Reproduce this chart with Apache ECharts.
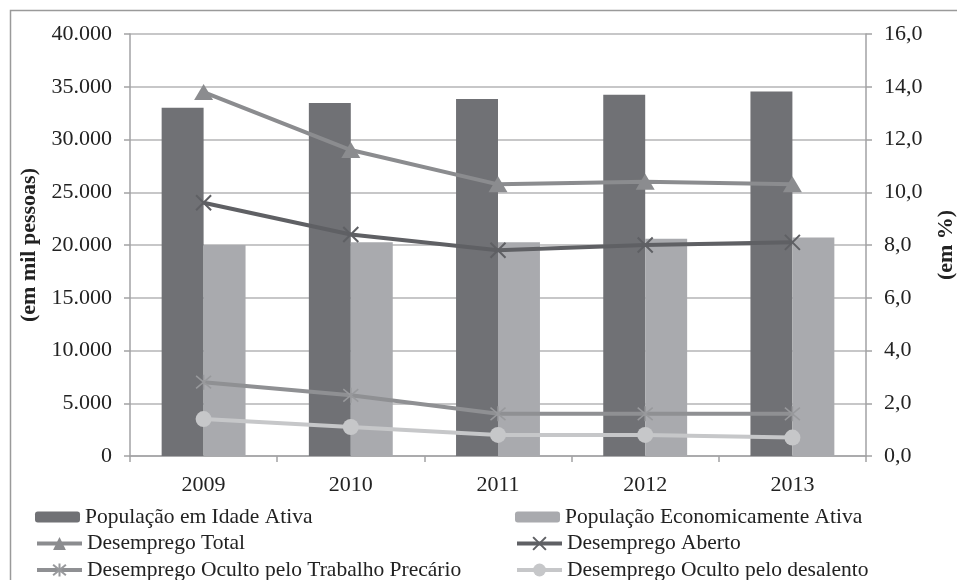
<!DOCTYPE html>
<html>
<head>
<meta charset="utf-8">
<script src="https://cdn.jsdelivr.net/npm/echarts@6/dist/echarts.min.js"></script>
<style>
  html, body { margin: 0; padding: 0; background: #fff; }
  #chart { width: 957px; height: 580px; }
</style>
</head>
<body>
<div id="chart"></div>
<script>
// Anos
const years = ['2009', '2010', '2011', '2012', '2013'];

// População (em mil pessoas)
const popIdadeAtiva = [33000, 33450, 33850, 34250, 34550];
const popEconAtiva = [20000, 20250, 20250, 20600, 20700];

// Taxas de desemprego (em %)
const desempTotal = [13.8, 11.6, 10.3, 10.4, 10.3];
const desempAberto = [9.6, 8.4, 7.8, 8.0, 8.1];
const desempPrecario = [2.8, 2.3, 1.6, 1.6, 1.6];
const desempDesalento = [1.4, 1.1, 0.8, 0.8, 0.7];

// Ordem da legenda: [coluna esquerda, coluna direita] por linha
const legendRows = [
  ['População em Idade Ativa', 'População Economicamente Ativa'],
  ['Desemprego Total', 'Desemprego Aberto'],
  ['Desemprego Oculto pelo Trabalho Precário', 'Desemprego Oculto pelo desalento']
];

const serif = '"Liberation Serif", "Times New Roman", serif';
const axisGray = '#a2a2a4';
const fontSize = 22;

const crossPath = 'path://M0,0L10,10M10,0L0,10';
const asteriskPath = 'path://M0,0L10,10M10,0L0,10M5,-1L5,11';

const chart = echarts.init(document.getElementById('chart'));

function fmtThousands(v) {
  return String(v).replace(/\B(?=(\d{3})+(?!\d))/g, '.');
}

// Uma legenda por item, em duas colunas
const legendTops = [506, 532.5, 559];
const legends = [];
legendRows.forEach((row, r) => {
  row.forEach((name, c) => {
    const isBar = r === 0;
    legends.push({
      left: c === 0 ? 35 : 515,
      top: legendTops[r],
      itemWidth: 45,
      itemHeight: isBar ? 11 : 16,
      itemGap: 0,
      padding: 0,
      lineStyle: { width: 4 },
      textStyle: { fontFamily: serif, fontSize: 21.5, color: '#222' },
      data: [name]
    });
  });
});

chart.setOption({
  animation: false,
  textStyle: { fontFamily: serif },
  graphic: [{
    type: 'rect',
    shape: { x: 10.5, y: 10.5, width: 1000, height: 1000 },
    style: { fill: 'none', stroke: '#9a9a9a', lineWidth: 1.5 },
    silent: true
  }],
  grid: { left: 130, right: 91, top: 34, bottom: 124, outerBoundsMode: 'none' },
  legend: legends,
  xAxis: {
    type: 'category',
    data: years,
    axisLine: { lineStyle: { color: axisGray, width: 1.5 } },
    axisTick: { show: true, length: 6, lineStyle: { color: axisGray, width: 1.5 } },
    axisLabel: { fontFamily: serif, fontSize: fontSize, color: '#222', margin: 18 }
  },
  yAxis: [
    {
      type: 'value', min: 0, max: 40000, interval: 5000,
      name: '(em mil pessoas)', nameLocation: 'middle', nameGap: 79, nameRotate: 90,
      nameTextStyle: { fontFamily: serif, fontSize: fontSize, fontWeight: 'bold', color: '#222' },
      axisLine: { show: true, lineStyle: { color: axisGray, width: 1.5 } },
      axisTick: { show: true, length: 6, lineStyle: { color: axisGray, width: 1.5 } },
      axisLabel: { fontFamily: serif, fontSize: fontSize, color: '#222', margin: 18, formatter: fmtThousands },
      splitLine: { lineStyle: { color: '#b4b4b6', width: 1.5 } }
    },
    {
      type: 'value', min: 0, max: 16, interval: 2, position: 'right',
      name: '(em %)', nameLocation: 'middle', nameGap: 69, nameRotate: 90,
      nameTextStyle: { fontFamily: serif, fontSize: fontSize, fontWeight: 'bold', color: '#222' },
      axisLine: { show: true, lineStyle: { color: axisGray, width: 1.5 } },
      axisTick: { show: true, length: 6, lineStyle: { color: axisGray, width: 1.5 } },
      axisLabel: { fontFamily: serif, fontSize: fontSize, color: '#222', margin: 18,
        formatter: v => v.toFixed(1).replace('.', ',') },
      splitLine: { show: false }
    }
  ],
  series: [
    {
      name: 'População em Idade Ativa', type: 'bar', yAxisIndex: 0,
      data: popIdadeAtiva, barGap: '0%', barCategoryGap: '43%',
      itemStyle: { color: '#707175' }, z: 1
    },
    {
      name: 'População Economicamente Ativa', type: 'bar', yAxisIndex: 0,
      data: popEconAtiva, barGap: '0%', barCategoryGap: '43%',
      itemStyle: { color: '#a9aaae' }, z: 1
    },
    {
      name: 'Desemprego Total', type: 'line', yAxisIndex: 1, data: desempTotal,
      symbol: 'triangle', symbolSize: [19, 16],
      lineStyle: { color: '#8b8c8f', width: 4 },
      itemStyle: { color: '#8b8c8f' }, z: 5
    },
    {
      name: 'Desemprego Aberto', type: 'line', yAxisIndex: 1, data: desempAberto,
      symbol: crossPath, symbolSize: 15,
      lineStyle: { color: '#5f6064', width: 4 },
      itemStyle: { color: 'rgba(0,0,0,0)', borderColor: '#5f6064', borderWidth: 2 }, z: 5
    },
    {
      name: 'Desemprego Oculto pelo Trabalho Precário', type: 'line', yAxisIndex: 1, data: desempPrecario,
      symbol: asteriskPath, symbolSize: 15,
      lineStyle: { color: '#8f9093', width: 4 },
      itemStyle: { color: 'rgba(0,0,0,0)', borderColor: '#98999c', borderWidth: 1.5 }, z: 5
    },
    {
      name: 'Desemprego Oculto pelo desalento', type: 'line', yAxisIndex: 1, data: desempDesalento,
      symbol: 'circle', symbolSize: 16,
      lineStyle: { color: '#c6c7c9', width: 4 },
      itemStyle: { color: '#c6c7c9' }, z: 5
    }
  ]
});
</script>
</body>
</html>
